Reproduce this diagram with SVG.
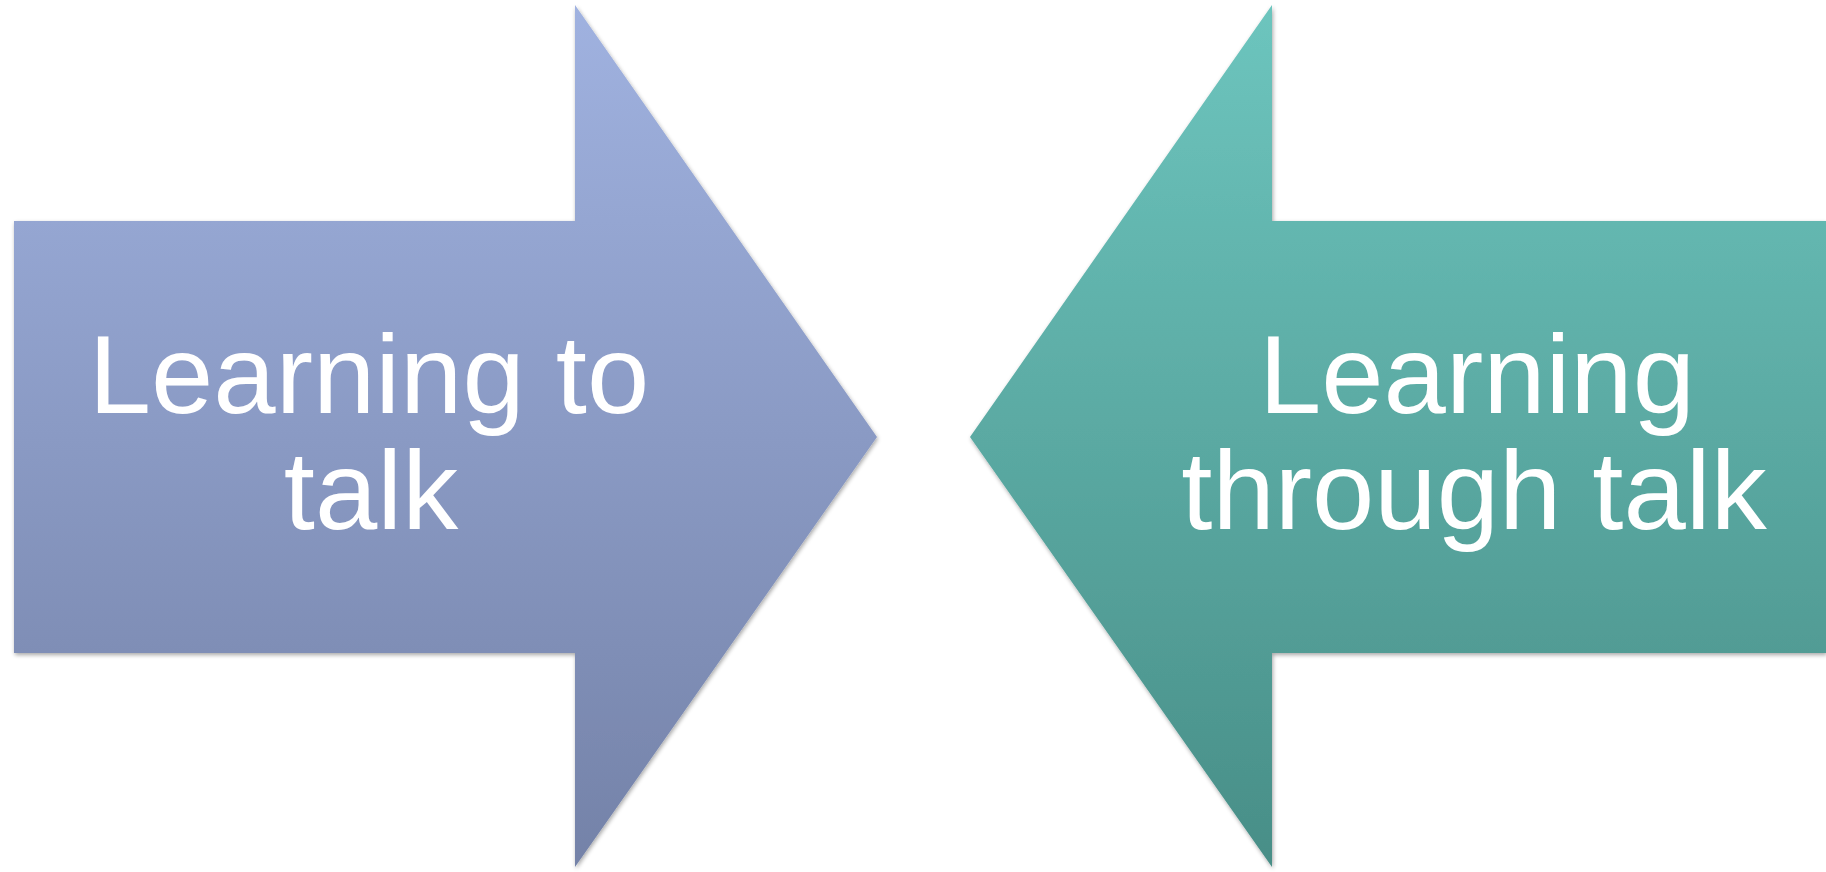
<svg xmlns="http://www.w3.org/2000/svg" width="1826" height="872" viewBox="0 0 1826 872">
<defs>
<linearGradient id="gL" x1="0" y1="5" x2="0" y2="867" gradientUnits="userSpaceOnUse">
<stop offset="0" stop-color="#a0b2e0"/>
<stop offset="1" stop-color="#7482a8"/>
</linearGradient>
<linearGradient id="gR" x1="0" y1="5" x2="0" y2="867" gradientUnits="userSpaceOnUse">
<stop offset="0" stop-color="#6dc5be"/>
<stop offset="1" stop-color="#488e87"/>
</linearGradient>
<filter id="sh" x="-5%" y="-5%" width="110%" height="110%">
<feGaussianBlur in="SourceAlpha" stdDeviation="2"/>
<feOffset dx="1" dy="2" result="b"/>
<feComponentTransfer><feFuncA type="linear" slope="0.35"/></feComponentTransfer>
<feMerge><feMergeNode/><feMergeNode in="SourceGraphic"/></feMerge>
</filter>
</defs>
<style>
.t{font-family:"Liberation Sans",Arial,sans-serif;font-size:112px;fill:#ffffff;text-anchor:middle}
</style>
<rect width="1826" height="872" fill="#ffffff"/>
<g id="left-arrow">
<polygon points="14,221 575,221 575,5 877,437 575,867 575,653 14,653" fill="url(#gL)" filter="url(#sh)"/>
<text class="t" x="369" y="413">Learning to</text>
<text class="t" x="371" y="529">talk</text>
</g>
<g id="right-arrow">
<polygon points="1826,221 1272,221 1272,5 970,437 1272,867 1272,653 1826,653" fill="url(#gR)" filter="url(#sh)"/>
<text class="t" x="1477" y="413">Learning</text>
<text class="t" x="1474" y="529">through talk</text>
</g>
<g id="connectors"/>
</svg>
